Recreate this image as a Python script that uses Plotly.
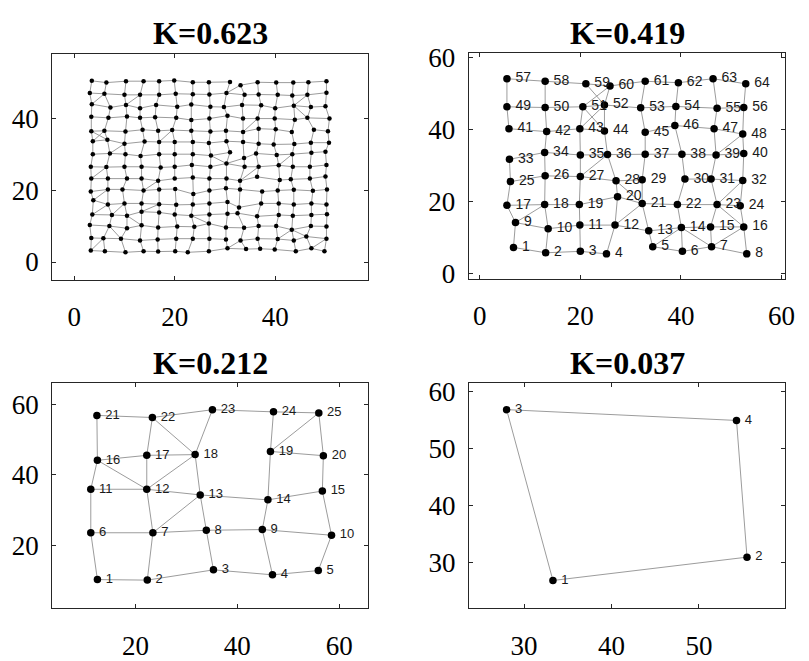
import plotly.graph_objects as go

# ---------------- Panel 1 (K=0.623): 15 x 15 jittered grid, rows bottom -> top ----------------
g1_x_rows = [
    [3.3, 6.1, 10.2, 13.8, 16.7, 20.1, 22.6, 26.8, 30.5, 34.2, 37.0, 39.9, 44.1, 47.2, 49.8],
    [3.4, 5.8, 9.3, 13.1, 16.6, 20.3, 23.6, 26.9, 30.2, 33.1, 36.5, 40.5, 43.7, 46.2, 50.2],
    [3.1, 7.0, 10.5, 13.4, 16.7, 20.5, 23.9, 26.8, 30.2, 33.8, 36.7, 40.2, 43.3, 47.1, 50.2],
    [3.6, 7.5, 10.5, 13.4, 16.9, 20.0, 23.3, 26.9, 30.5, 32.5, 36.4, 40.7, 43.5, 47.2, 50.3],
    [3.8, 6.7, 10.0, 13.4, 16.9, 20.3, 23.6, 26.9, 30.5, 32.8, 37.2, 40.7, 43.7, 47.2, 50.2],
    [3.3, 6.7, 9.6, 13.8, 16.9, 20.1, 23.7, 26.9, 30.2, 33.0, 37.4, 40.5, 43.7, 47.5, 50.3],
    [3.4, 6.7, 10.5, 13.4, 16.7, 20.0, 23.6, 26.9, 30.3, 33.0, 36.4, 40.9, 43.1, 46.9, 50.0],
    [3.3, 6.4, 10.0, 13.4, 17.2, 20.0, 23.4, 27.1, 30.3, 33.9, 36.7, 40.7, 43.5, 46.9, 50.2],
    [3.7, 7.1, 10.2, 13.2, 16.9, 20.0, 23.6, 27.2, 31.0, 33.8, 36.2, 40.3, 43.4, 47.2, 50.0],
    [3.7, 6.6, 10.0, 14.0, 16.9, 20.0, 23.6, 26.8, 30.3, 33.6, 36.7, 39.7, 43.8, 47.1, 50.7],
    [3.4, 6.0, 10.2, 13.6, 16.7, 19.5, 23.3, 27.1, 30.2, 33.6, 36.7, 40.1, 43.3, 47.7, 50.5],
    [3.4, 6.8, 10.5, 13.1, 16.1, 20.3, 23.3, 26.9, 30.5, 33.6, 36.5, 39.9, 43.9, 46.4, 50.8],
    [3.5, 7.2, 10.3, 13.1, 16.3, 20.5, 23.3, 27.1, 29.8, 33.4, 37.2, 40.0, 43.7, 47.1, 50.0],
    [3.1, 6.0, 10.0, 13.1, 16.9, 20.2, 23.6, 26.9, 30.3, 33.9, 36.7, 40.5, 43.4, 46.4, 50.2],
    [3.5, 6.4, 10.3, 13.8, 16.9, 19.9, 23.6, 26.8, 31.0, 33.1, 36.5, 40.2, 43.6, 46.6, 50.2],
]
g1_y_rows = [
    [3.2, 3.0, 2.7, 3.0, 2.9, 3.0, 2.7, 3.0, 3.8, 3.6, 3.7, 3.5, 3.0, 3.8, 3.0],
    [6.7, 6.6, 6.5, 6.0, 6.3, 6.5, 6.5, 6.5, 6.3, 6.0, 6.5, 6.4, 6.0, 7.1, 6.5],
    [10.3, 10.0, 9.4, 10.2, 9.6, 9.9, 9.8, 10.7, 9.6, 9.5, 10.0, 10.0, 9.0, 10.0, 9.9],
    [13.2, 13.1, 12.9, 14.0, 13.8, 13.2, 12.9, 13.2, 13.4, 13.6, 12.7, 13.1, 12.9, 13.1, 13.3],
    [17.2, 16.0, 16.3, 16.3, 16.1, 15.9, 16.0, 16.3, 16.7, 15.2, 16.3, 16.3, 16.0, 16.3, 16.0],
    [19.6, 20.2, 20.2, 19.9, 20.2, 20.3, 18.9, 19.9, 20.5, 20.2, 19.6, 19.9, 20.1, 19.8, 20.2],
    [23.2, 23.2, 23.2, 23.2, 22.6, 23.2, 23.5, 23.2, 23.2, 22.6, 23.7, 22.8, 23.0, 23.2, 23.8],
    [26.5, 26.4, 26.5, 26.5, 26.3, 26.5, 27.0, 26.5, 27.4, 26.5, 26.5, 26.9, 26.5, 26.5, 27.0],
    [30.0, 30.2, 30.0, 29.5, 30.0, 30.0, 30.0, 29.6, 30.5, 28.9, 30.2, 29.8, 30.0, 30.4, 30.7],
    [33.6, 34.0, 32.9, 33.5, 33.4, 33.4, 33.4, 33.1, 33.6, 33.4, 32.9, 32.7, 32.8, 33.2, 33.2],
    [36.4, 36.5, 36.3, 36.8, 36.5, 36.7, 36.5, 36.3, 36.5, 36.2, 37.1, 36.9, 36.2, 36.8, 36.4],
    [40.4, 40.1, 40.5, 40.1, 40.3, 40.1, 39.5, 39.9, 40.7, 39.9, 39.9, 39.9, 39.6, 40.1, 39.9],
    [43.9, 43.0, 43.7, 42.8, 43.7, 43.2, 43.8, 43.2, 43.1, 43.7, 43.6, 42.8, 43.5, 43.1, 43.3],
    [47.0, 46.8, 46.5, 46.5, 46.5, 46.8, 46.7, 46.6, 47.0, 46.5, 46.6, 46.5, 46.3, 46.5, 47.1],
    [50.4, 49.9, 50.3, 50.3, 50.3, 50.5, 50.0, 50.0, 50.1, 49.2, 50.0, 49.9, 49.9, 50.0, 50.3],
]
# extra (diagonal) links, as ((row, col), (row, col))
g1_extra = [
    ((12, 0), (13, 1)), ((12, 2), (13, 3)), ((12, 12), (13, 13)), ((11, 13), (12, 12)),
    ((10, 0), (9, 1)), ((9, 0), (10, 1)), ((9, 4), (10, 5)), ((10, 9), (11, 10)),
    ((8, 1), (9, 2)), ((8, 7), (7, 8)), ((7, 8), (8, 9)), ((7, 11), (8, 12)),
    ((6, 0), (7, 1)), ((5, 3), (6, 4)), ((4, 0), (5, 1)), ((3, 0), (4, 1)),
    ((3, 1), (4, 2)), ((3, 6), (2, 7)), ((0, 0), (1, 1)), ((2, 1), (1, 2)),
    ((0, 8), (1, 9)), ((1, 11), (2, 12)), ((2, 12), (1, 13)), ((0, 13), (1, 14)),
    ((13, 8), (14, 9)), ((3, 2), (2, 3)), ((3, 3), (4, 4)), ((6, 9), (7, 10)),
]
# grid links that are absent
g1_missing = [
    ((10, 12), (10, 13)), ((5, 10), (6, 10)), ((5, 5), (6, 5)), ((14, 8), (14, 9)),
    ((8, 8), (8, 9)), ((1, 8), (1, 9)),
]

# ---------------- Panel 2 (K=0.419): 64 nodes ----------------
x2 = [6.7, 13.1, 20.0, 25.2, 34.4, 40.3, 46.1, 53.1,
      7.1, 13.6, 19.9, 26.9, 33.6, 40.1, 45.9, 52.5,
      5.4, 12.9, 19.8, 27.4, 32.3, 39.3, 47.2, 51.8,
      6.1, 13.0, 20.0, 27.1, 32.3, 40.8, 46.0, 52.3,
      5.9, 12.9, 20.0, 25.4, 32.9, 40.2, 47.0, 52.5,
      5.8, 13.3, 19.9, 24.8, 32.9, 38.8, 46.6, 52.3,
      5.4, 13.0, 20.5, 24.8, 32.0, 39.0, 47.2, 52.5,
      5.4, 13.0, 21.1, 25.9, 32.9, 39.5, 46.4, 52.9]
y2 = [7.3, 5.8, 6.2, 5.5, 7.5, 6.2, 7.5, 5.5,
      14.2, 12.5, 13.5, 13.5, 11.9, 12.8, 13.0, 13.0,
      19.0, 19.2, 19.2, 21.4, 19.5, 19.2, 19.2, 18.9,
      25.6, 27.2, 27.0, 25.8, 26.1, 26.3, 26.3, 25.9,
      31.8, 33.7, 33.0, 33.1, 33.2, 33.2, 33.0, 33.4,
      40.3, 39.5, 40.3, 39.7, 39.3, 41.2, 40.3, 38.8,
      46.4, 46.2, 46.4, 46.9, 46.1, 46.5, 46.0, 46.2,
      54.2, 53.5, 52.8, 52.2, 53.5, 53.1, 54.2, 52.8]
edges2 = [
    (57, 58), (58, 59), (59, 60), (60, 61), (61, 62), (62, 63), (63, 64),
    (49, 50), (50, 51), (51, 52), (52, 53), (53, 54), (54, 55), (55, 56),
    (41, 42), (42, 43), (43, 44), (45, 46), (46, 47), (47, 48),
    (33, 34), (34, 35), (35, 36), (36, 37), (37, 38), (38, 39), (39, 40),
    (25, 26), (26, 27), (27, 28), (28, 29), (30, 31), (31, 32),
    (17, 18), (18, 19), (19, 20), (20, 21), (21, 22), (22, 23), (23, 24),
    (9, 10), (10, 11), (11, 12), (12, 13), (13, 14), (14, 15), (15, 16),
    (1, 2), (2, 3), (3, 4), (5, 6), (6, 7), (7, 8),
    (57, 49), (49, 41), (33, 25), (25, 17), (17, 9), (9, 1),
    (58, 50), (50, 42), (42, 34), (34, 26), (26, 18), (18, 10), (10, 2),
    (59, 52), (60, 51), (60, 52), (51, 43), (43, 35), (35, 27), (27, 19), (19, 11), (11, 3),
    (51, 44), (43, 52), (52, 44), (44, 36), (36, 28), (28, 20), (20, 12), (12, 4), (27, 36),
    (61, 53), (53, 45), (45, 37), (37, 29), (29, 21), (21, 13), (13, 5), (28, 21), (21, 12),
    (62, 54), (54, 46), (46, 38), (38, 30), (30, 22), (22, 14), (14, 6), (14, 5), (14, 7),
    (63, 55), (55, 47), (47, 39), (39, 31), (31, 23), (23, 15), (15, 7),
    (39, 48), (23, 32), (23, 16), (7, 16),
    (64, 56), (56, 48), (48, 40), (40, 32), (32, 24), (24, 16), (16, 8),
    (9, 18),
]

# ---------------- Panel 3 (K=0.212): 25 nodes ----------------
x3 = [12.5, 22.3, 35.3, 46.9, 55.9,
      11.2, 23.4, 33.9, 44.9, 58.5,
      11.2, 22.2, 32.7, 46.0, 56.7,
      12.5, 22.2, 31.7, 46.5, 56.9,
      12.4, 23.3, 35.1, 47.1, 56.0]
y3 = [10.35, 10.2, 13.1, 11.7, 12.9,
      23.6, 23.6, 24.3, 24.5, 22.9,
      35.9, 35.9, 34.3, 32.9, 35.4,
      44.1, 45.5, 45.7, 46.6, 45.4,
      56.8, 56.2, 58.4, 57.8, 57.5]
edges3 = [
    (1, 2), (2, 3), (3, 4), (4, 5), (5, 10), (10, 15), (15, 20), (20, 25),
    (25, 24), (24, 23), (23, 22), (22, 21), (21, 16), (16, 11), (11, 6), (6, 1),
    (6, 7), (7, 8), (8, 9), (9, 10), (2, 7), (7, 12), (11, 12), (12, 13), (13, 14),
    (14, 15), (3, 8), (8, 13), (13, 18), (4, 9), (9, 14), (14, 19), (19, 24),
    (19, 20), (19, 25), (17, 12), (17, 22), (16, 17), (17, 18), (18, 22), (18, 23),
    (16, 12), (12, 18), (7, 13),
]

# ---------------- Panel 4 (K=0.037): 4 nodes ----------------
x4 = [33.3, 55.5, 28.0, 54.3]
y4 = [26.9, 31.0, 56.9, 55.0]
edges4 = [(1, 2), (2, 4), (4, 3), (3, 1)]

titles = ["K=0.623", "K=0.419", "K=0.212", "K=0.037"]

EDGE = "#9c9c9c"
SERIF = "Liberation Serif"
SANS = "Liberation Sans"

fig = go.Figure()


def edge_trace(xs, ys, pairs, ax):
    ex, ey = [], []
    for a, b in pairs:
        ex += [xs[a], xs[b], None]
        ey += [ys[a], ys[b], None]
    return go.Scatter(x=ex, y=ey, mode="lines", line=dict(color=EDGE, width=1),
                      hoverinfo="skip", showlegend=False, xaxis="x" + ax, yaxis="y" + ax)


# panel 1
n1 = 15
x1 = [v for row in g1_x_rows for v in row]
y1 = [v for row in g1_y_rows for v in row]
idx = lambda rc: rc[0] * n1 + rc[1]
missing = {frozenset((idx(a), idx(b))) for a, b in g1_missing}
pairs1 = []
for r in range(n1):
    for c in range(n1):
        if c + 1 < n1:
            pairs1.append((idx((r, c)), idx((r, c + 1))))
        if r + 1 < n1:
            pairs1.append((idx((r, c)), idx((r + 1, c))))
pairs1 = [p for p in pairs1 if frozenset(p) not in missing]
pairs1 += [(idx(a), idx(b)) for a, b in g1_extra]
fig.add_trace(edge_trace(x1, y1, pairs1, ""))
fig.add_trace(go.Scatter(x=x1, y=y1, mode="markers", marker=dict(color="black", size=4.5),
                         showlegend=False, xaxis="x", yaxis="y"))

# panels 2-4
for xs, ys, edges, ax, fs, ms in [(x2, y2, edges2, "2", 14, 7.5),
                                  (x3, y3, edges3, "3", 13, 7.5),
                                  (x4, y4, edges4, "4", 13, 7.5)]:
    fig.add_trace(edge_trace(xs, ys, [(a - 1, b - 1) for a, b in edges], ax))
    fig.add_trace(go.Scatter(x=xs, y=ys, mode="markers+text",
                             text=["\u2009" + str(i + 1) for i in range(len(xs))],
                             textposition="middle right",
                             textfont=dict(family=SANS, size=fs, color="#1a1a1a"),
                             marker=dict(color="black", size=ms),
                             showlegend=False, xaxis="x" + ax, yaxis="y" + ax))

W, H = 809, 661
boxes = {  # left, right, top, bottom in pixels
    "": (52.7, 372.3, 45.0, 279.3),
    "2": (474.0, 794.3, 44.7, 278.3),
    "3": (52.7, 372.3, 385.7, 619.0),
    "4": (474.3, 794.3, 385.7, 619.0),
}
ranges = {
    "": ([-4.4, 58.5], [-5.0, 58.0], [0, 20, 40], [0, 20, 40]),
    "2": ([-2.2, 60.8], [-1.5, 61.3], [0, 20, 40, 60], [0, 20, 40, 60]),
    "3": ([3.6, 65.7], [2.2, 66.0], [20, 40, 60], [20, 40, 60]),
    "4": ([23.7, 59.9], [22.0, 61.6], [30, 40, 50], [30, 40, 50, 60]),
}
axcommon = dict(showgrid=False, zeroline=False, showline=True, linecolor="#262626", linewidth=1,
                mirror="ticks", ticks="inside", ticklen=4, tickcolor="#262626",
                tickfont=dict(family=SERIF, size=27, color="black"))
layout = {}
for k, (l, r, t, b) in boxes.items():
    xr, yr, xt, yt = ranges[k]
    layout["xaxis" + k] = dict(axcommon, domain=[l / W, r / W], range=xr, tickvals=xt,
                               anchor="y" + k, ticklabelstandoff=13)
    layout["yaxis" + k] = dict(axcommon, domain=[1 - b / H, 1 - t / H], range=yr, tickvals=yt,
                               anchor="x" + k, ticklabelstandoff=7)

annotations = []
for k, title in zip(["", "2", "3", "4"], titles):
    l, r, t, b = boxes[k]
    annotations.append(dict(text="<b>" + title + "</b>", x=(l + r) / 2 / W, y=1 - (t - 21) / H,
                            xref="paper", yref="paper", xanchor="center", yanchor="middle",
                            showarrow=False, font=dict(family=SERIF, size=32, color="black")))

fig.update_layout(width=W, height=H, margin=dict(l=0, r=0, t=0, b=0),
                  paper_bgcolor="white", plot_bgcolor="white", annotations=annotations,
                  **layout)
fig.write_html("out.html", post_script="document.body.style.margin='0';")
